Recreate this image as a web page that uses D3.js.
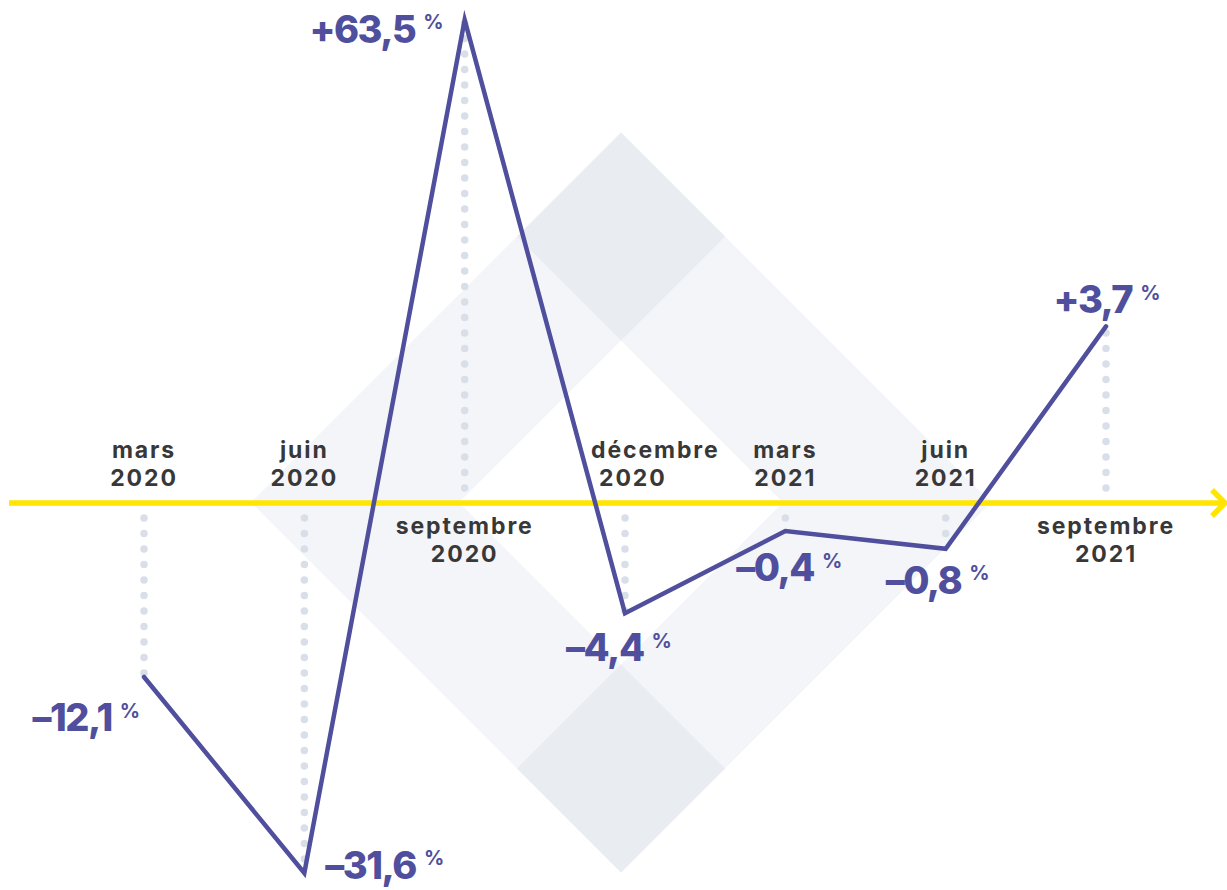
<!DOCTYPE html>
<html lang="fr">
<head>
<meta charset="utf-8">
<title>Évolution trimestrielle</title>
<script src="https://cdn.jsdelivr.net/npm/d3@7"></script>
<style>
  html, body { margin: 0; padding: 0; background: #fff; }
  svg { display: block; }
  .cat { font-family: Inter, "Noto Sans", sans-serif; font-weight: 700; font-size: 23px; fill: #383838; letter-spacing: 1.9px; }
  .val { font-family: Inter, "Noto Sans", sans-serif; font-weight: 800; font-size: 38px; fill: #4f4f9d; letter-spacing: -1.5px; }
  .val .pct { font-size: 20px; font-weight: 700; letter-spacing: 0; }
</style>
</head>
<body>
<svg id="chart" width="1227" height="890"></svg>
<script>
// Quarterly change, in percent
const months = ["mars", "juin", "septembre", "décembre", "mars", "juin", "septembre"];
const years  = ["2020", "2020", "2020", "2020", "2021", "2021", "2021"];
const values = [-12.1, -31.6, 63.5, -4.4, -0.4, -0.8, 3.7];
const unit = "%";

const W = 1227, H = 890;
const svg = d3.select("#chart").attr("viewBox", [0, 0, W, H]);

const fr = d3.formatLocale({ decimal: ",", thousands: "\u00a0", grouping: [3], currency: ["", "\u00a0€"], minus: "–" });
const fmt = fr.format("+.1f");

const x = d3.scalePoint().domain(d3.range(values.length)).range([144, 1106]);
// Piecewise-linear scale: small quarterly moves are spread out, the extremes compressed
const y = d3.scaleLinear()
  .domain([-32, -12, -4, -1, -0.5, 0, 4, 64])
  .range([877, 676, 610, 556, 538, 503, 312, 17.5]);
const y0 = y(0);

// Decorative diamond frame behind the chart
const bg = svg.append("g");
const cx = 621, cy = 502.5, R = 370, r = 162;
const diamond = (px, py, rad) => `M${px},${py - rad}L${px + rad},${py}L${px},${py + rad}L${px - rad},${py}Z`;
bg.append("path")
  .attr("d", diamond(cx, cy, R) + diamond(cx, cy, r))
  .attr("fill-rule", "evenodd")
  .attr("fill", "#f4f5f8");
const mid = (R + r) / 2, half = (R - r) / 2;
bg.append("path").attr("d", diamond(cx, cy - mid, half)).attr("fill", "#e9ecf1");
bg.append("path").attr("d", diamond(cx, cy + mid, half)).attr("fill", "#e9ecf1");

// Dotted drop lines from the axis to each point
svg.append("g")
  .selectAll("line")
  .data(values)
  .join("line")
  .attr("x1", (d, i) => x(i))
  .attr("x2", (d, i) => x(i))
  .attr("y1", d => y0 + (d < 0 ? 15 : -15))
  .attr("y2", d => y(d))
  .attr("stroke", "#d9dfe8")
  .attr("stroke-width", 7.5)
  .attr("stroke-linecap", "round")
  .attr("stroke-dasharray", "0 15.5");

// Zero axis with arrow
const axis = svg.append("g").attr("stroke", "#ffe500").attr("stroke-width", 5.5).attr("fill", "none");
axis.append("line").attr("x1", 9).attr("x2", 1222).attr("y1", y0).attr("y2", y0);
axis.append("path").attr("d", `M1212,${y0 - 13}L1225,${y0}L1212,${y0 + 13}`);

// Series line
svg.append("path")
  .datum(values)
  .attr("d", d3.line().x((d, i) => x(i)).y(d => y(d)))
  .attr("fill", "none")
  .attr("stroke", "#4f4f9d")
  .attr("stroke-width", 4.5)
  .attr("stroke-linejoin", "miter")
  .attr("stroke-miterlimit", 10)
  .attr("stroke-linecap", "round");

// Period labels: above the axis for falls, below it for rises
const cats = svg.append("g").attr("class", "cat");
values.forEach((v, i) => {
  const below = v > 0;
  const b1 = below ? y0 + 31 : y0 - 45;
  const b2 = below ? y0 + 59 : y0 - 17;
  const t = cats.append("text");
  if (i === 3) {
    // the falling segment passes through this column, so the label sits to its side
    t.attr("text-anchor", "start");
    t.append("tspan").attr("x", x(i) - 34).attr("y", b1).text(months[i]);
    t.append("tspan").attr("x", x(i) - 26).attr("y", b2).text(years[i]);
  } else {
    t.attr("text-anchor", "middle");
    t.append("tspan").attr("x", x(i)).attr("y", b1).text(months[i]);
    t.append("tspan").attr("x", x(i)).attr("y", b2).text(years[i]);
  }
});

// Value labels
const place = [
  { anchor: "end",    dx: -4,  dy: 54 },
  { anchor: "start",  dx: 21,  dy: 6 },
  { anchor: "end",    dx: -21, dy: 23 },
  { anchor: "middle", dx: -6,  dy: 48 },
  { anchor: "middle", dx: 4,   dy: 50 },
  { anchor: "middle", dx: -8,  dy: 45 },
  { anchor: "middle", dx: 1,   dy: -13 }
];
const vals = svg.append("g").attr("class", "val");
values.forEach((v, i) => {
  const p = place[i];
  const t = vals.append("text")
    .attr("x", x(i) + p.dx)
    .attr("y", y(v) + p.dy)
    .attr("text-anchor", p.anchor);
  t.append("tspan").text(fmt(v));
  t.append("tspan").attr("class", "pct").attr("dx", 8).attr("dy", -13.5).text(unit);
});
</script>
</body>
</html>
